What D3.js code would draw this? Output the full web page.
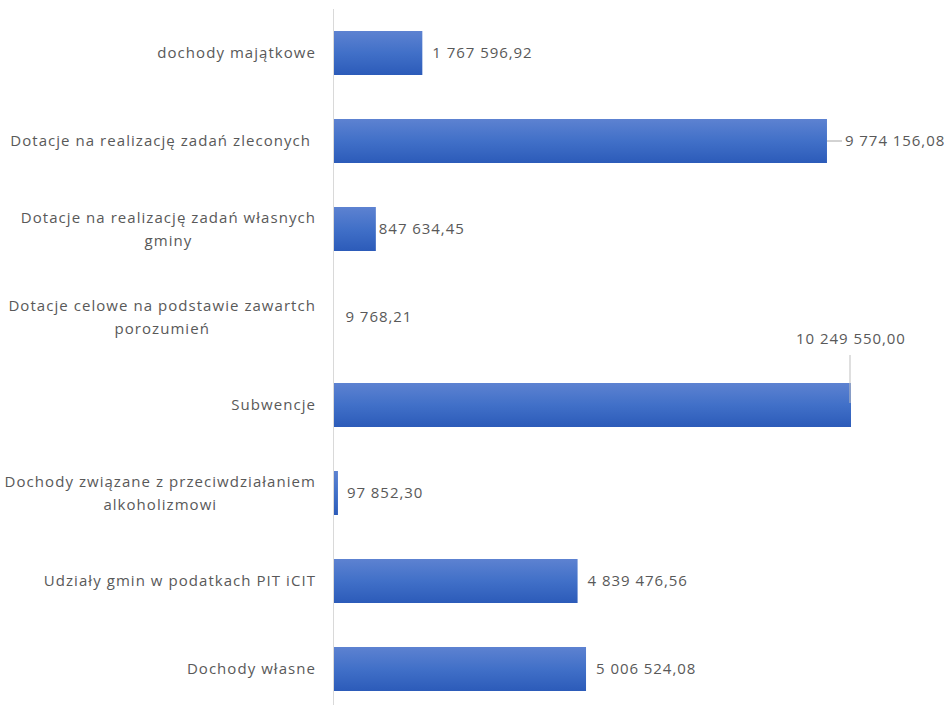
<!DOCTYPE html>
<html>
<head>
<meta charset="utf-8">
<script src="https://cdn.jsdelivr.net/npm/d3@7"></script>
<style>
    html, body { margin: 0; padding: 0; background: #fff; }
    #chart { width: 948px; height: 705px; }
    text { font-family: "Open Sans", "Noto Sans", sans-serif; fill: #595959; white-space: pre; }
</style>
</head>
<body>
<div id="chart"></div>
<script>
// ============================================================================
// Dochody gminy - horizontal bar chart
// ============================================================================

const categories = [
    ['dochody majątkowe'],
    ['Dotacje na realizację zadań zleconych '],
    ['Dotacje na realizację zadań własnych', 'gminy'],
    ['Dotacje celowe na podstawie zawartch', 'porozumień'],
    ['Subwencje'],
    ['Dochody związane z przeciwdziałaniem', 'alkoholizmowi'],
    ['Udziały gmin w podatkach PIT iCIT'],
    ['Dochody własne']
];

const values = [
    1767596.92,
    9774156.08,
    847634.45,
    9768.21,
    10249550.00,
    97852.30,
    4839476.56,
    5006524.08
];

const valueLabels = [
    '1 767 596,92',
    '9 774 156,08',
    '847 634,45',
    '9 768,21',
    '10 249 550,00',
    '97 852,30',
    '4 839 476,56',
    '5 006 524,08'
];

// label placement tweaks (Excel labels moved by hand): dx from bar end, dy from bar centre, leader line
const labelLayout = [
    { dx: 10, dy: 0 },
    { dx: 18, dy: 0, leader: 'h' },
    { dx: 3, dy: 0 },
    { dx: 12, dy: 0 },
    { dx: 0, dy: -66, anchor: 'middle', leader: 'v' },
    { dx: 9, dy: 0 },
    { dx: 10, dy: 0 },
    { dx: 10, dy: 0 }
];

const width = 948, height = 705;
const x0 = 333;
const labelRight = 316;

const svg = d3.select('#chart').append('svg')
    .attr('width', width).attr('height', height);

const defs = svg.append('defs');
const grad = defs.append('linearGradient')
    .attr('id', 'barGrad')
    .attr('x1', 0).attr('y1', 0).attr('x2', 0).attr('y2', 1);
grad.append('stop').attr('offset', '0%').attr('stop-color', '#5d82d1');
grad.append('stop').attr('offset', '50%').attr('stop-color', '#4170c8');
grad.append('stop').attr('offset', '100%').attr('stop-color', '#2c5bb9');

const xScale = d3.scaleLinear().domain([0, 10249550]).range([x0, 851]);
const yScale = d3.scaleBand()
    .domain(d3.range(categories.length))
    .range([9, 713])
    .paddingInner(0.5)
    .paddingOuter(0.25);

// Axis line
svg.append('line')
    .attr('x1', x0 + 0.5).attr('x2', x0 + 0.5)
    .attr('y1', 9).attr('y2', height)
    .attr('stroke', '#d9d9d9')
    .attr('stroke-width', 1);

// Bars
svg.selectAll('.bar')
    .data(values)
    .join('rect')
    .attr('class', 'bar')
    .attr('x', xScale(0) + 1)
    .attr('y', (d, i) => yScale(i))
    .attr('width', d => Math.max(0, xScale(d) - xScale(0) - 1))
    .attr('height', yScale.bandwidth())
    .attr('fill', 'url(#barGrad)');

// Category labels - block right aligned, lines centred within block
const lineH = 23;
categories.forEach((lines, i) => {
    const cy = yScale(i) + yScale.bandwidth() / 2;
    const t = svg.append('text')
        .attr('text-anchor', 'middle')
        .style('font-size', '15px')
        .style('letter-spacing', '1.05px');
    const spans = lines.map((ln, j) => t.append('tspan')
        .attr('x', 0)
        .attr('y', cy + (j - (lines.length - 1) / 2) * lineH)
        .attr('dy', '0.35em')
        .text(ln));
    const w = d3.max(spans, s => s.node().getComputedTextLength());
    spans.forEach(s => s.attr('x', labelRight - w / 2));
});

// Value labels
values.forEach((v, i) => {
    const L = labelLayout[i];
    const xe = xScale(v);
    const cy = yScale(i) + yScale.bandwidth() / 2;
    const tx = xe + L.dx;
    const ty = cy + L.dy;
    if (L.leader === 'h') {
        svg.append('line')
            .attr('x1', xe).attr('x2', tx - 3)
            .attr('y1', cy).attr('y2', cy)
            .attr('stroke', '#a6a6a6').attr('stroke-width', 1);
    }
    if (L.leader === 'v') {
        svg.append('line')
            .attr('x1', xe - 1).attr('x2', xe - 1)
            .attr('y1', ty + 16).attr('y2', cy - 2)
            .attr('stroke', '#bfbfbf').attr('stroke-width', 1);
    }
    svg.append('text')
        .attr('x', tx)
        .attr('y', ty)
        .attr('dy', '0.35em')
        .attr('text-anchor', L.anchor || 'start')
        .style('font-size', '15px')
        .style('letter-spacing', '0.95px')
        .text(valueLabels[i]);
});
</script>
</body>
</html>
